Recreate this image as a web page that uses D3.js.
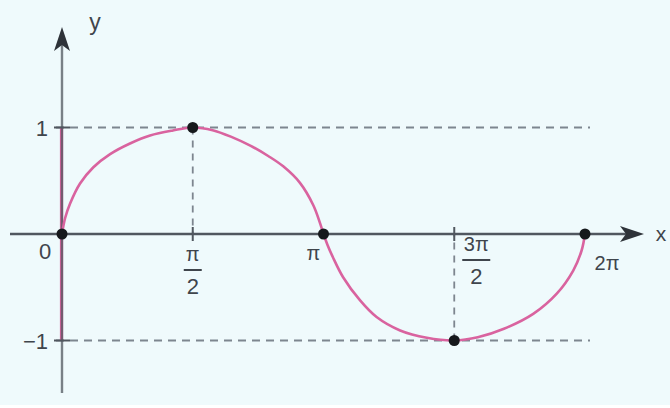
<!DOCTYPE html>
<html lang="en">
<head>
  <meta charset="UTF-8">
  <title>y = sin x</title>
  <script src="https://d3js.org/d3.v7.min.js"></script>
  <style>
    body { margin: 0; background: #ffffff; }
    svg { display: block; }
    text { font-family: "Liberation Sans", Arial, sans-serif; fill: #3f454c; }
  </style>
</head>
<body>
<script>
  // curve, x in multiples of pi
  const curveX = [0, 0.012, 0.031, 0.069, 0.12, 0.184, 0.26, 0.337, 0.424, 0.5,
    0.576, 0.65, 0.72, 0.79, 0.846, 0.91, 0.961, 0.987, 1,
    1.015, 1.036, 1.075, 1.14, 1.203, 1.293, 1.395, 1.5,
    1.59, 1.69, 1.802, 1.892, 1.955, 1.987, 2];
  const curveY = [0, 0.15, 0.286, 0.474, 0.627, 0.75, 0.85, 0.925, 0.972, 1,
    0.975, 0.91, 0.83, 0.73, 0.635, 0.48, 0.27, 0.1, 0,
    -0.1, -0.218, -0.406, -0.624, -0.78, -0.906, -0.975, -1,
    -0.97, -0.89, -0.75, -0.56, -0.343, -0.155, 0];

  // marked points
  const pointX = [0, 0.5, 1, 1.5, 2];
  const pointY = [0, 1, 0, -1, 0];

  // tick labels
  const xTicks = [
    { v: 0, num: "0", den: null, dx: -17, dy: 17 },
    { v: 0.5, num: "\u03c0", den: "2", dx: 0, dy: 0 },
    { v: 1, num: "\u03c0", den: null, dx: -10, dy: 18 },
    { v: 1.5, num: "3\u03c0", den: "2", dx: 22, dy: -10 },
    { v: 2, num: "2\u03c0", den: null, dx: 22, dy: 28 }
  ];
  const yTicks = [1, -1];
  const yTickLabels = ["1", "\u22121"];

  const W = 670, H = 408;
  const svg = d3.select('body').append('svg')
    .attr('width', W)
    .attr('height', H);

  svg.append('rect')
    .attr('x', 0).attr('y', 0)
    .attr('width', W).attr('height', H - 3)
    .attr('fill', '#effafc');

  const x = d3.scaleLinear().domain([0, 2]).range([62, 585]);
  const y = d3.scaleLinear().domain([-1, 1]).range([340.5, 127.5]);

  const axisColor = '#50575f';
  const dashColor = '#7d868f';
  const pink = '#d9639f';

  // dashed guides
  yTicks.forEach(v => {
    svg.append('line')
      .attr('x1', x(0) - 6).attr('x2', 590)
      .attr('y1', y(v)).attr('y2', y(v))
      .attr('stroke', dashColor)
      .attr('stroke-width', 1.8)
      .attr('stroke-dasharray', '8,6');
  });
  [[0.5, 1], [1.5, -1]].forEach(([xv, yv]) => {
    svg.append('line')
      .attr('x1', x(xv)).attr('x2', x(xv))
      .attr('y1', y(yv)).attr('y2', y(0))
      .attr('stroke', dashColor)
      .attr('stroke-width', 1.8)
      .attr('stroke-dasharray', '7,6');
  });

  // pink range marker along the y axis
  svg.append('line')
    .attr('x1', x(0) - 0.5).attr('x2', x(0) - 0.5)
    .attr('y1', y(1)).attr('y2', y(-1))
    .attr('stroke', pink)
    .attr('stroke-width', 3.2);

  // axes
  svg.append('line')
    .attr('x1', 10).attr('x2', 628)
    .attr('y1', y(0)).attr('y2', y(0))
    .attr('stroke', axisColor).attr('stroke-width', 2.4);
  svg.append('line')
    .attr('x1', x(0)).attr('x2', x(0))
    .attr('y1', 393).attr('y2', 42)
    .attr('stroke', axisColor).attr('stroke-width', 2.4)
    .attr('stroke-opacity', 0.75);

  // arrowheads
  const ax = 644, ay = y(0);
  svg.append('path')
    .attr('d', `M${ax},${ay} L${ax - 24},${ay - 8} L${ax - 18},${ay} L${ax - 24},${ay + 8} Z`)
    .attr('fill', '#2e3339');
  const bx = x(0), by = 27;
  svg.append('path')
    .attr('d', `M${bx},${by} L${bx - 8},${by + 24} L${bx},${by + 18} L${bx + 8},${by + 24} Z`)
    .attr('fill', '#2e3339');

  // tick marks
  [0.5, 1.5].forEach(v => {
    svg.append('line')
      .attr('x1', x(v)).attr('x2', x(v))
      .attr('y1', y(0) - 7).attr('y2', y(0) + 7)
      .attr('stroke', axisColor).attr('stroke-width', 2);
  });
  yTicks.forEach(v => {
    svg.append('line')
      .attr('x1', x(0) - 8).attr('x2', x(0) + 8)
      .attr('y1', y(v)).attr('y2', y(v))
      .attr('stroke', axisColor).attr('stroke-width', 2);
  });

  // sine curve
  const line = d3.line()
    .x(i => x(curveX[i]))
    .y(i => y(curveY[i]))
    .curve(d3.curveCatmullRom.alpha(0.5));
  svg.append('path')
    .attr('d', line(d3.range(curveX.length)))
    .attr('fill', 'none')
    .attr('stroke', pink)
    .attr('stroke-width', 2.6);

  // points
  svg.selectAll('circle.pt')
    .data(d3.range(pointX.length))
    .enter().append('circle')
    .attr('class', 'pt')
    .attr('cx', i => x(pointX[i]))
    .attr('cy', i => y(pointY[i]))
    .attr('r', 5.5)
    .attr('fill', '#16191c');

  // y tick labels
  yTicks.forEach((v, i) => {
    svg.append('text')
      .attr('x', x(0) - 14).attr('y', y(v) + 8)
      .attr('text-anchor', 'end')
      .attr('font-size', 22)
      .text(yTickLabels[i]);
  });

  // x tick labels
  xTicks.forEach(t => {
    const cx = x(t.v) + t.dx;
    if (t.den) {
      const top = y(0) + 27 + t.dy;
      svg.append('text')
        .attr('x', cx).attr('y', top)
        .attr('text-anchor', 'middle')
        .attr('font-size', 20)
        .text(t.num);
      svg.append('line')
        .attr('x1', cx - (t.num.length > 1 ? 14 : 9))
        .attr('x2', cx + (t.num.length > 1 ? 14 : 9))
        .attr('y1', top + 9).attr('y2', top + 9)
        .attr('stroke', '#3f454c').attr('stroke-width', 2);
      svg.append('text')
        .attr('x', cx).attr('y', top + 33)
        .attr('text-anchor', 'middle')
        .attr('font-size', 22)
        .text(t.den);
    } else {
      svg.append('text')
        .attr('x', cx).attr('y', y(0) + t.dy + 8)
        .attr('text-anchor', 'middle')
        .attr('font-size', t.v === 0 ? 22 : 20)
        .text(t.num);
    }
  });

  // axis names
  svg.append('text')
    .attr('x', 661).attr('y', y(0) + 7)
    .attr('text-anchor', 'middle')
    .attr('font-size', 21)
    .text('x');
  svg.append('text')
    .attr('x', 95).attr('y', 30)
    .attr('text-anchor', 'middle')
    .attr('font-size', 23)
    .text('y');
</script>
</body>
</html>
